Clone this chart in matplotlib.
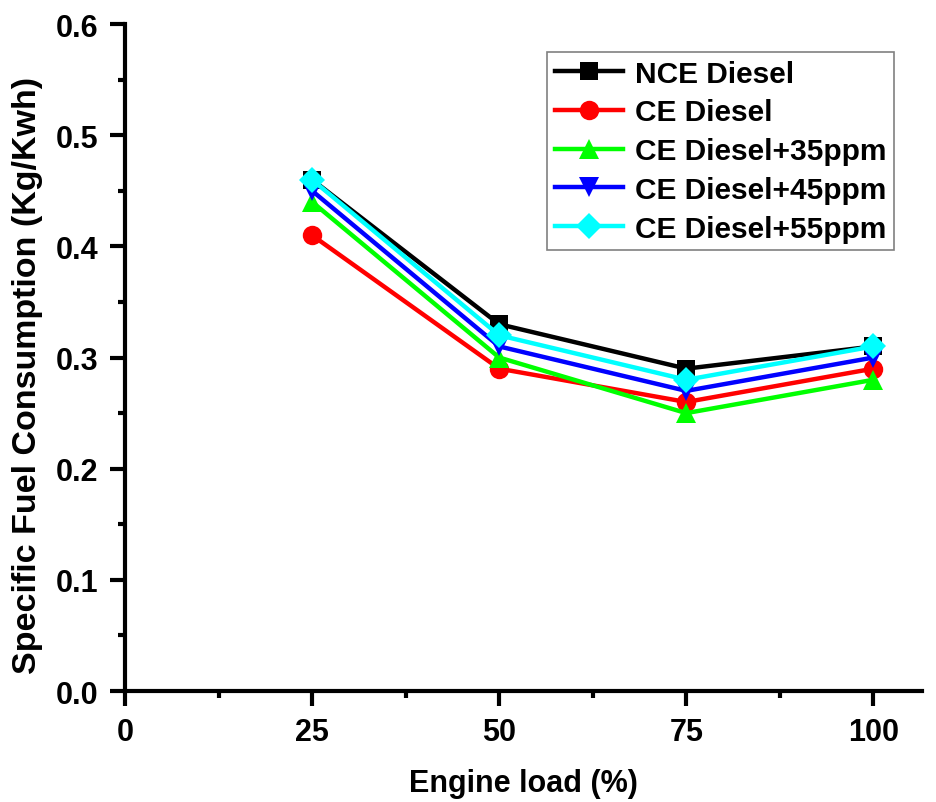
import matplotlib
matplotlib.use('Agg')
import matplotlib.pyplot as plt
from matplotlib.ticker import MultipleLocator

plt.rcParams['font.family'] = ['Liberation Sans', 'DejaVu Sans']
plt.rcParams['font.weight'] = 'bold'

load = [25, 50, 75, 100]
nce_diesel = [0.46, 0.33, 0.29, 0.31]
ce_diesel = [0.41, 0.29, 0.26, 0.29]
ce_35ppm = [0.44, 0.30, 0.25, 0.28]
ce_45ppm = [0.45, 0.31, 0.27, 0.30]
ce_55ppm = [0.46, 0.32, 0.28, 0.31]

labels = ['NCE Diesel', 'CE Diesel', 'CE Diesel+35ppm', 'CE Diesel+45ppm', 'CE Diesel+55ppm']
series = [nce_diesel, ce_diesel, ce_35ppm, ce_45ppm, ce_55ppm]
colors = ['#000000', '#ff0000', '#00ff00', '#0000ff', '#00ffff']
markers = ['s', 'o', '^', 'v', 'D']
msizes = [13, 14, 15, 15, 13]

fig = plt.figure(figsize=(9.37, 8.03), dpi=100)
ax = fig.add_axes([0.1334, 0.1382, 0.8506, 0.8306])

for y, lab, c, m, ms in zip(series, labels, colors, markers, msizes):
    ax.plot(load, y, color=c, marker=m, markersize=ms, linewidth=3.2,
            markeredgewidth=0, label=lab)

ax.set_xlim(0, 106.5)
ax.set_ylim(0, 0.6)
ax.xaxis.set_major_locator(MultipleLocator(25))
ax.xaxis.set_minor_locator(MultipleLocator(12.5))
ax.yaxis.set_major_locator(MultipleLocator(0.1))
ax.yaxis.set_minor_locator(MultipleLocator(0.05))
ax.yaxis.set_major_formatter(plt.FormatStrFormatter('%.1f'))

for s in ['top', 'right']:
    ax.spines[s].set_visible(False)
for s in ['left', 'bottom']:
    ax.spines[s].set_linewidth(3)

ax.tick_params(which='major', direction='out', length=11, width=3, labelsize=22, pad=8)
ax.tick_params(which='minor', direction='out', length=5, width=3)

ax.set_xlabel('Engine load (%)', fontsize=22, fontweight='bold', labelpad=15)
ax.set_ylabel('Specific Fuel Consumption (Kg/Kwh)', fontsize=24.5, fontweight='bold')
ax.yaxis.set_label_coords(-0.103, 0.474)

leg = ax.legend(loc='upper right', bbox_to_anchor=(0.965, 0.958), fontsize=21.5,
                handlelength=2.3, handletextpad=0.4, labelspacing=0.36,
                borderpad=0.25, borderaxespad=0, fancybox=False, framealpha=1)
leg.get_frame().set_edgecolor('#808080')
leg.get_frame().set_linewidth(1.2)

fig.savefig('out.png', dpi=100)
